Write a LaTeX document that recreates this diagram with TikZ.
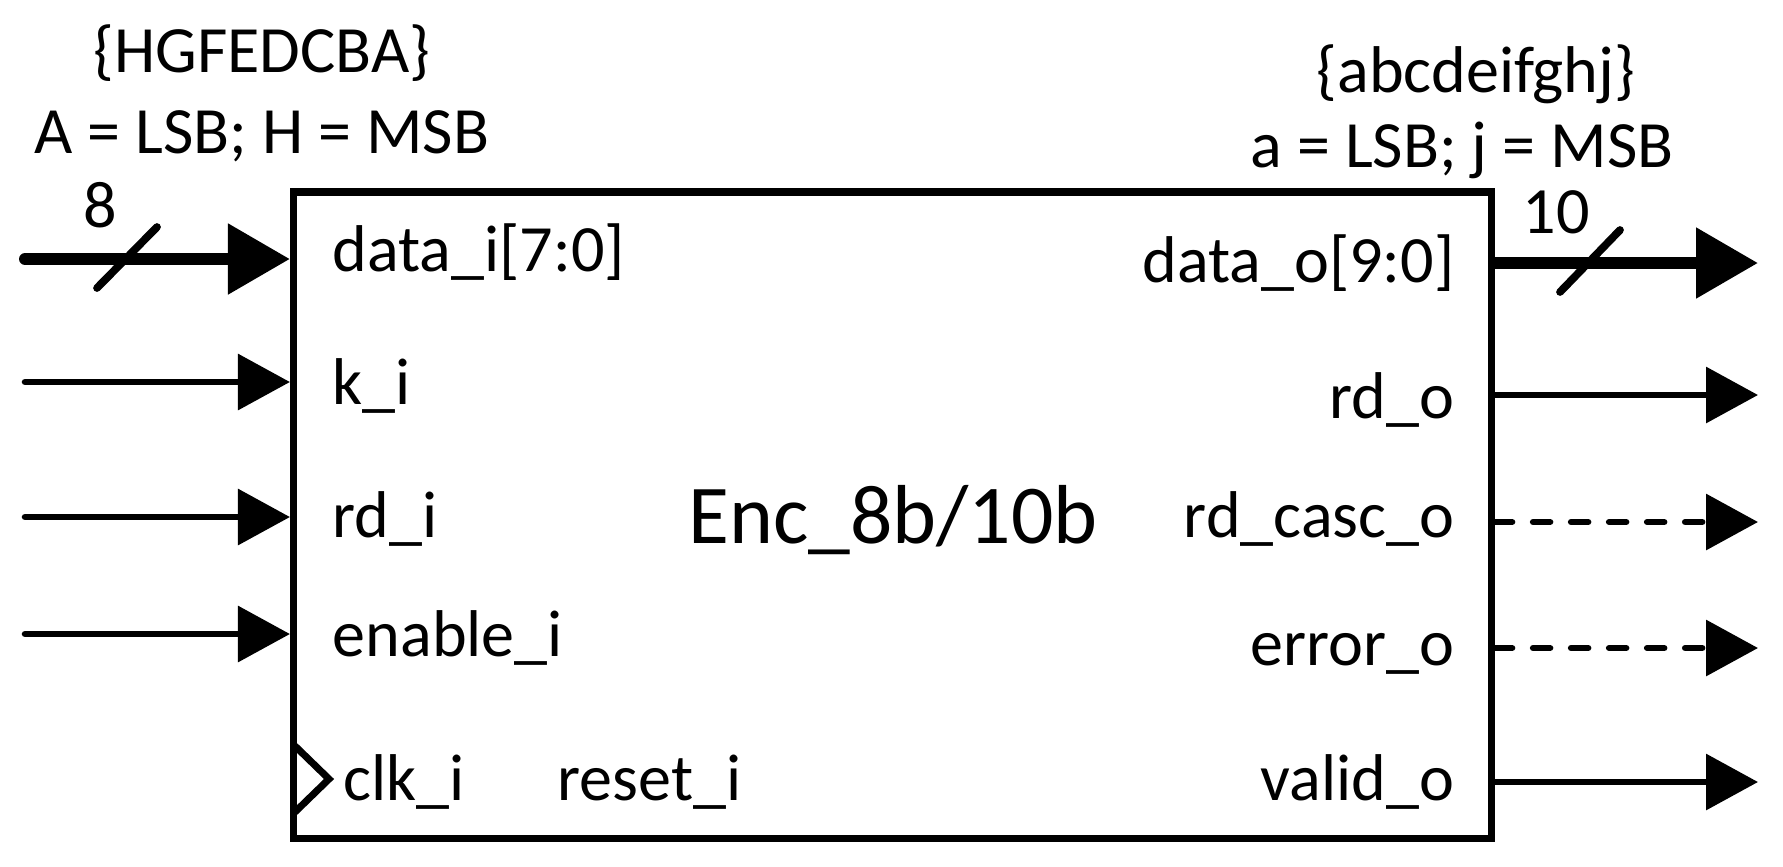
\documentclass[tikz,border=0pt]{standalone}
\usepackage{fontspec}
\setmainfont{Carlito}
\usetikzlibrary{arrows.meta, calc}

\tikzset{
	sig/.style={line width=1.85pt, line cap=round, -{Triangle[length=0.52cm, width=0.55cm]}},
	bus/.style={line width=3.4pt, line cap=round, -{Triangle[length=0.62cm, width=0.68cm]}},
	optsig/.style={sig, dash pattern=on 0.17cm off 0.21cm},
	busslash/.style={line width=2.2pt, line cap=round},
	port/.style={font=\fontsize{18.8}{22}\selectfont, inner sep=0pt},
	blockbox/.style={draw, line width=2.1pt, inner sep=0pt, minimum width=11.97cm, minimum height=6.46cm},
}

\begin{document}
\begin{tikzpicture}[x=0.01cm, y=-0.01cm]
			\useasboundingbox (0,0) rectangle (1783,866);

			\node [blockbox] (enc) at (892.5,515) {};
			\node [port, font=\fontsize{23.8}{28}\selectfont, anchor=base] (title) at (893,543) {Enc\_8b/10b};

			\begin{scope}
				\coordinate (din) at (25,259);
				\coordinate (kin) at (25,382);
				\coordinate (rdin) at (25,517);
				\coordinate (enin) at (25,634);

				\draw [bus] (din) -- (din -| enc.west);
				\draw [sig] (kin) -- (kin -| enc.west);
				\draw [sig] (rdin) -- (rdin -| enc.west);
				\draw [sig] (enin) -- (enin -| enc.west);

				\draw [busslash] (97,288) -- (157,227);
				\node [port, anchor=base] (inwidth) at (100,227) {8};
			\end{scope}

			\begin{scope}
				\coordinate (dout) at (1758,263);
				\coordinate (rdout) at (1758,395);
				\coordinate (cascout) at (1758,522);
				\coordinate (errout) at (1758,648);
				\coordinate (valout) at (1758,782);

				\draw [bus] (enc.east |- dout) -- (dout);
				\draw [sig] (enc.east |- rdout) -- (rdout);
				\draw [optsig] (enc.east |- cascout) -- (cascout);
				\draw [optsig] (enc.east |- errout) -- (errout);
				\draw [sig] (enc.east |- valout) -- (valout);

				\draw [busslash] (1560,292) -- (1620,230);
				\node [port, anchor=base] (outwidth) at (1556,233) {10};
			\end{scope}

			\draw [line width=2pt, line join=miter] (295,746) -- (329,779) -- (295,812);

			\begin{scope}[every node/.style={port, anchor=base west}]
				\node (datai) at (332,271) {data\_i[7:0]};
				\node (ki) at (332,404) {k\_i};
				\node (rdi) at (332,537) {rd\_i};
				\node (enablei) at (332,656) {enable\_i};
				\node (clki) at (343,800) {clk\_i};
				\node (reseti) at (557,800) {reset\_i};
			\end{scope}

			\begin{scope}[every node/.style={port, anchor=base east}]
				\node (datao) at (1455,282) {data\_o[9:0]};
				\node (rdo) at (1455,418) {rd\_o};
				\node (casco) at (1455,537) {rd\_casc\_o};
				\node (erroro) at (1455,665) {error\_o};
				\node (valido) at (1455,800) {valid\_o};
			\end{scope}

			\begin{scope}[every node/.style={port, anchor=base}]
				\node (inorder) at (262,72) {\{HGFEDCBA\}};
				\node (inbits) at (262,153) {A = LSB; H = MSB};
				\node (outorder) at (1476,92) {\{abcdeifghj\}};
				\node (outbits) at (1462,167) {a = LSB; j = MSB};
			\end{scope}
		\end{tikzpicture}
\end{document}
